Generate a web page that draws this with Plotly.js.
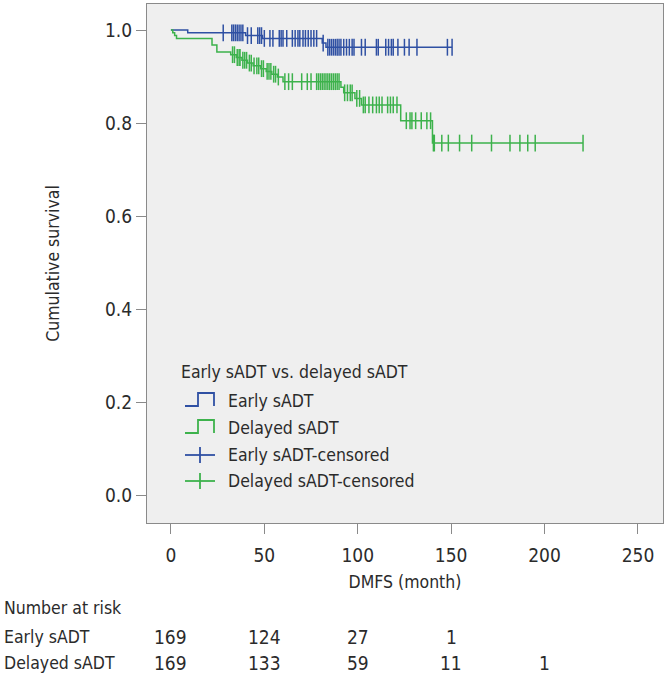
<!DOCTYPE html>
<html><head><meta charset="utf-8">
<script src="https://cdn.plot.ly/plotly-3.0.1.min.js"></script>
<style>html,body{margin:0;padding:0;background:#fff}#chart{width:668px;height:681px}</style>
</head><body><div id="chart"></div>
<script>
// ---- data ----
const earlyEventTimes = [9, 40, 49, 81, 83];
const earlySurvival   = [0.994, 0.988, 0.982, 0.972, 0.963];
const earlyCensorTimes = [28, 32.6, 33.5, 34.5, 35.5, 36.5, 37.5, 38.5, 41, 43, 46.5, 47.5, 48.5, 50, 53, 54.6,
  58, 59, 60, 62, 65, 66.5, 68, 69, 70.7, 72, 73.5, 75, 76.5, 78, 81.5, 84, 85, 86, 87, 88, 89, 90, 91, 92.5,
  94, 95.5, 97, 98, 102, 104, 110, 111, 115, 116.5, 118, 119, 121.5, 125, 127.5, 131.7, 148, 150.5];

const delayedEventTimes = [1, 2, 3, 22, 24.6, 32, 35, 38, 41, 44, 48, 51, 54, 57, 60, 91, 92.5, 98.5, 102, 123, 140];
const delayedSurvival   = [0.994, 0.988, 0.982, 0.968, 0.953, 0.947, 0.941, 0.935, 0.929, 0.923, 0.917, 0.911,
  0.905, 0.899, 0.889, 0.877, 0.865, 0.853, 0.839, 0.805, 0.757];
const delayedCensorTimes = [33, 34, 35.5, 36.5, 37, 38.5, 39.5, 40.5, 42, 43, 44.5, 46, 47, 48.5, 49.5, 51.5, 52.5,
  53.5, 55, 56, 57.5, 61, 63, 65, 70, 73, 75, 78, 79, 80, 81, 82, 83, 84, 85, 86, 87, 88, 89, 90, 93, 94.5, 96,
  97, 99.5, 101, 103, 104, 106, 108, 110, 111.5, 113, 116, 117.5, 119, 121, 126, 128, 129, 131, 134, 137, 139,
  140.5, 141, 145, 148.5, 154.5, 161, 171.6, 181.5, 186.8, 191, 195, 220.6];

const riskTimes    = [0, 50, 100, 150, 200];
const riskEarly    = [169, 124, 27, 1, null];
const riskDelayed  = [169, 133, 59, 11, 1];
const groupNames   = ['Early sADT', 'Delayed sADT'];
const legendTitle  = 'Early sADT vs. delayed sADT';
const legendLabels = ['Early sADT', 'Delayed sADT', 'Early sADT-censored', 'Delayed sADT-censored'];
const xTicks = [0, 50, 100, 150, 200, 250];
const yTicks = [0, 0.2, 0.4, 0.6, 0.8, 1.0];

// ---- styling ----
const BLUE = '#2f50a3', GREEN = '#3db24c', TXT = '#2b2b2b', FRAME = '#8a8a8a';
const FONT = '"DejaVu Sans Condensed", "Liberation Sans", sans-serif';
const M = {l: 147, r: 5, t: 4, b: 158};
const W = 668, H = 681, PW = W - M.l - M.r, PH = H - M.t - M.b;
const px = x => (x - M.l) / PW;          // pixel -> paper x
const py = y => (H - M.b - y) / PH;      // pixel -> paper y

function survAt(t, times, surv) {
  let s = 1;
  for (let i = 0; i < times.length; i++) if (times[i] <= t) s = surv[i];
  return s;
}
function stepTrace(times, surv, censor, color) {
  const end = Math.max(...censor, ...times);
  return {x: [0, ...times, end], y: [1, ...surv, surv[surv.length - 1]], mode: 'lines',
    line: {shape: 'hv', color: color, width: 1.5}, showlegend: false, hoverinfo: 'skip'};
}
function censorTrace(censor, times, surv, color) {
  return {x: censor, y: censor.map(t => survAt(t, times, surv)), mode: 'markers',
    marker: {symbol: 'line-ns-open', size: 12, color: color, line: {color: color, width: 1.5}},
    showlegend: false, hoverinfo: 'skip'};
}

const traces = [
  stepTrace(earlyEventTimes, earlySurvival, earlyCensorTimes, BLUE),
  stepTrace(delayedEventTimes, delayedSurvival, delayedCensorTimes, GREEN),
  censorTrace(earlyCensorTimes, earlyEventTimes, earlySurvival, BLUE),
  censorTrace(delayedCensorTimes, delayedEventTimes, delayedSurvival, GREEN)
];

const annotations = [];
const shapes = [];
const f = (s, c) => ({family: FONT, size: s || 17.5, color: c || TXT});
const NUM = 19;

// legend (drawn manually to reproduce step-style icons)
annotations.push({xref: 'paper', yref: 'paper', x: px(179), y: py(372), xanchor: 'left', yanchor: 'middle',
  text: legendTitle, showarrow: false, font: f()});
const legY = [401, 428, 455, 481];
const legCol = [BLUE, GREEN, BLUE, GREEN];
legendLabels.forEach((lab, i) => {
  annotations.push({xref: 'paper', yref: 'paper', x: px(226), y: py(legY[i]), xanchor: 'left', yanchor: 'middle',
    text: lab, showarrow: false, font: f()});
  if (i < 2) {
    const y0 = legY[i] + 5, y1 = legY[i] - 8;
    shapes.push({type: 'path', xref: 'paper', yref: 'paper',
      path: `M${px(185)},${py(y0)} L${px(198)},${py(y0)} L${px(198)},${py(y1)} L${px(214)},${py(y1)} L${px(214)},${py(y0)}`,
      line: {color: legCol[i], width: 1.8}});
  } else {
    shapes.push({type: 'line', xref: 'paper', yref: 'paper', x0: px(185), x1: px(215), y0: py(legY[i]), y1: py(legY[i]),
      line: {color: legCol[i], width: 1.8}});
    shapes.push({type: 'line', xref: 'paper', yref: 'paper', x0: px(200), x1: px(200), y0: py(legY[i] - 8), y1: py(legY[i] + 8),
      line: {color: legCol[i], width: 1.8}});
  }
});

// number at risk table
annotations.push({xref: 'paper', yref: 'paper', x: px(2), y: py(608), xanchor: 'left', yanchor: 'middle',
  text: 'Number at risk', showarrow: false, font: f()});
const rowY = [637, 663];
[riskEarly, riskDelayed].forEach((row, r) => {
  annotations.push({xref: 'paper', yref: 'paper', x: px(2), y: py(rowY[r]), xanchor: 'left', yanchor: 'middle',
    text: groupNames[r], showarrow: false, font: f()});
  row.forEach((v, i) => {
    if (v === null) return;
    annotations.push({xref: 'x', yref: 'paper', x: riskTimes[i], y: py(rowY[r]), xanchor: 'center', yanchor: 'middle',
      text: String(v), showarrow: false, font: f(NUM)});
  });
});

const layout = {
  width: W, height: H, margin: M,
  paper_bgcolor: '#ffffff', plot_bgcolor: '#efefef',
  font: f(),
  showlegend: false,
  xaxis: {range: [-12.8, 263.4], tickvals: xTicks, ticktext: xTicks.map(String), ticks: 'outside', ticklen: 10,
    tickcolor: FRAME, tickwidth: 1, showgrid: false, zeroline: false, showline: true, linecolor: FRAME, linewidth: 1,
    mirror: true, tickfont: f(NUM), ticklabelstandoff: 5, title: {text: 'DMFS (month)', font: f(), standoff: 10}},
  yaxis: {range: [-0.06, 1.056], tickvals: yTicks, ticktext: yTicks.map(v => v.toFixed(1)), ticks: 'outside', ticklen: 10,
    tickcolor: FRAME, tickwidth: 1, showgrid: false, zeroline: false, showline: true, linecolor: FRAME, linewidth: 1,
    mirror: true, tickfont: f(NUM), title: {text: 'Cumulative survival', font: f(), standoff: 40}},
  annotations: annotations,
  shapes: shapes
};

Plotly.newPlot('chart', traces, layout, {staticPlot: true, displayModeBar: false});
</script>
</body></html>
